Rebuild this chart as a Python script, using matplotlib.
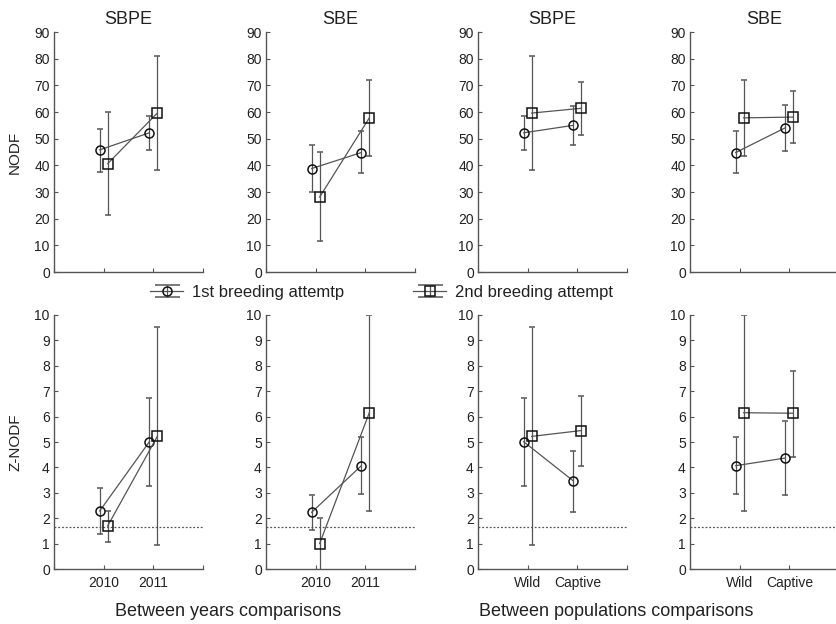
import numpy as np
import matplotlib
matplotlib.use("Agg")
import matplotlib.pyplot as plt
from matplotlib.legend_handler import HandlerErrorbar

plt.rcParams['font.family'] = ['Liberation Sans', 'DejaVu Sans']

# --- data: 4 panels (SBPE / SBE between years, SBPE / SBE between populations) x 2 groups ---
column_titles = ['SBPE', 'SBE', 'SBPE', 'SBE']
year_labels = ['2010', '2011']
pop_labels = ['Wild', 'Captive']

nodf_1st_mean = [[45.8, 52.2], [38.8, 44.8], [52.2, 55.0], [44.8, 54.1]]
nodf_1st_low = [[37.6, 45.8], [30.1, 37.0], [45.8, 47.6], [37.0, 45.4]]
nodf_1st_high = [[53.8, 58.4], [47.6, 52.8], [58.4, 62.3], [52.8, 62.6]]
nodf_2nd_mean = [[40.6, 59.6], [28.1, 57.8], [59.6, 61.4], [57.8, 58.1]]
nodf_2nd_low = [[21.3, 38.3], [11.6, 43.6], [38.3, 51.4], [43.6, 48.3]]
nodf_2nd_high = [[60.1, 81.0], [45.0, 71.9], [81.0, 71.1], [71.9, 68.0]]

z_1st_mean = [[2.29, 5.01], [2.24, 4.07], [5.01, 3.47], [4.07, 4.37]]
z_1st_low = [[1.37, 3.27], [1.53, 2.95], [3.27, 2.24], [2.95, 2.91]]
z_1st_high = [[3.19, 6.74], [2.93, 5.18], [6.74, 4.66], [5.18, 5.84]]
z_2nd_mean = [[1.70, 5.22], [1.01, 6.15], [5.22, 5.45], [6.15, 6.13]]
z_2nd_low = [[1.09, 0.95], [-0.2, 2.28], [0.95, 4.07], [2.28, 4.42]]
z_2nd_high = [[2.30, 9.52], [2.00, 9.98], [9.52, 6.82], [9.98, 7.78]]

z_threshold = 1.645

# --- styling ---
axis_grey = '#555555'
text_col = '#222222'
offset = 0.08
x = np.array([0, 1])

fig = plt.figure(figsize=(8.36, 6.24), dpi=100)
lefts = [54 / 836, 266 / 836, 478 / 836, 690 / 836]
width = 149 / 836

line_kw = dict(color=axis_grey, ecolor=axis_grey, elinewidth=0.9, lw=0.9,
               capthick=0.9, ms=6.5, mfc='none', mec='#111111', mew=1.1)


def style_axes(ax, ymax, ystep, xlabels):
    for s in ['top', 'right']:
        ax.spines[s].set_visible(False)
    for s in ['left', 'bottom']:
        ax.spines[s].set_color(axis_grey)
        ax.spines[s].set_linewidth(1.0)
    ax.set_xlim(-1, 2)
    ax.set_ylim(0, ymax)
    ax.set_yticks(np.arange(0, ymax + ystep / 2, ystep))
    ax.set_xticks([-1, 0, 1, 2])
    ax.set_xticklabels([''] + list(xlabels) + [''])
    ax.tick_params(direction='in', length=3, width=0.8, color=axis_grey,
                   labelcolor=text_col, labelsize=10, pad=3)
    ax.tick_params(axis='x', pad=5)


def draw_pair(ax, m1, lo1, hi1, m2, lo2, hi2):
    m1, lo1, hi1 = map(np.array, (m1, lo1, hi1))
    m2, lo2, hi2 = map(np.array, (m2, lo2, hi2))
    ax.errorbar(x - offset, m1, yerr=[m1 - lo1, hi1 - m1], fmt='-o',
                capsize=2, zorder=3, **line_kw)
    ax.errorbar(x + offset, m2, yerr=[m2 - lo2, hi2 - m2], fmt='-s',
                capsize=2, zorder=3, **line_kw)


for i in range(4):
    xlabels = year_labels if i < 2 else pop_labels

    ax = fig.add_axes([lefts[i], 1 - 272 / 624, width, 240 / 624])
    draw_pair(ax, nodf_1st_mean[i], nodf_1st_low[i], nodf_1st_high[i],
              nodf_2nd_mean[i], nodf_2nd_low[i], nodf_2nd_high[i])
    style_axes(ax, 90, 10, ['', ''])
    ax.set_title(column_titles[i], fontsize=13, color=text_col, pad=6)

    ax = fig.add_axes([lefts[i], 1 - 569.3 / 624, width, 254.6 / 624])
    draw_pair(ax, z_1st_mean[i], z_1st_low[i], z_1st_high[i],
              z_2nd_mean[i], z_2nd_low[i], z_2nd_high[i])
    ax.axhline(z_threshold, color=axis_grey, ls=(0, (1.5, 1.5)), lw=0.9, zorder=1)
    style_axes(ax, 10, 1, xlabels)

# legend keys with wide caps, drawn on a hidden axes
proxy_ax = fig.add_axes([0, 0, 0.01, 0.01])
h1 = proxy_ax.errorbar([0], [0], yerr=[1], fmt='-o', capsize=9, **line_kw)
h2 = proxy_ax.errorbar([0], [0], yerr=[1], fmt='-s', capsize=9, **line_kw)
proxy_ax.set_visible(False)

# y labels
fig.text(15 / 836, 1 - 152 / 624, 'NODF', rotation=90, ha='center', va='center',
         fontsize=11, color=text_col)
fig.text(15 / 836, 1 - 442 / 624, 'Z-NODF', rotation=90, ha='center', va='center',
         fontsize=11, color=text_col)

# group labels under the panels
fig.text(228 / 836, 1 - 612 / 624, 'Between years comparisons', ha='center',
         va='center', fontsize=13, color=text_col)
fig.text(616 / 836, 1 - 612 / 624, 'Between populations comparisons', ha='center',
         va='center', fontsize=13, color=text_col)

# legend between the two rows
leg_kw = dict(loc='center left', frameon=False, fontsize=12, handlelength=2.0,
              handletextpad=0.5, borderaxespad=0, borderpad=0,
              handler_map={type(h1): HandlerErrorbar(xerr_size=0.35)})
leg1 = fig.legend([h1], ['1st breeding attemtp'],
                  bbox_to_anchor=(150 / 836, 1 - 292 / 624), **leg_kw)
leg2 = fig.legend([h2], ['2nd breeding attempt'],
                  bbox_to_anchor=(413 / 836, 1 - 292 / 624), **leg_kw)
for leg in (leg1, leg2):
    for t in leg.get_texts():
        t.set_color(text_col)

fig.savefig('out.png', dpi=100)
